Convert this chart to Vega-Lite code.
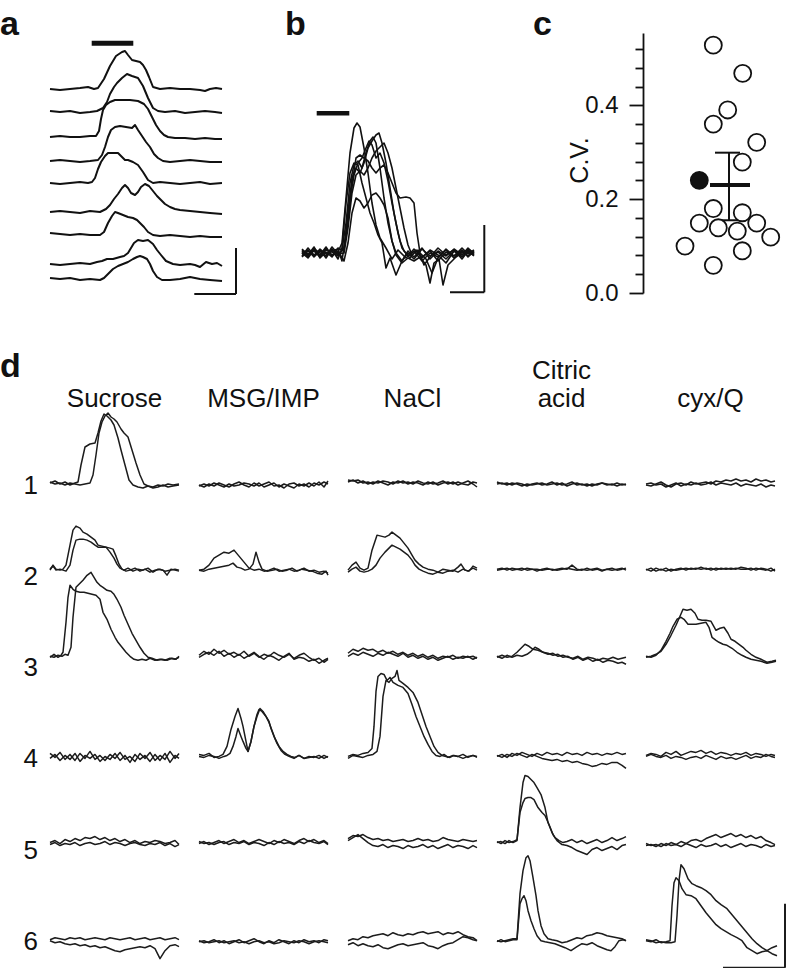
{
"$schema":"https://vega.github.io/schema/vega-lite/v6.json",
"background":"white",
"padding":{"left":0,"top":8,"right":0,"bottom":0},
"config":{"view":{"stroke":null},"font":"Liberation Sans","axis":{"labelOverlap":false},"title":{"font":"Liberation Sans","fontSize":34,"fontWeight":"bold","color":"#111","anchor":"start","frame":"group"}},
"datasets":{
"a":[
{"k":"trace","trace":1,"t":[0,10,20,30,38,44,48,54,60,66,72,75,78,82,86,90,93,96,99,103,110,120,130,140,150,155,160,166,172],"v":[204,203,204,205,206,204,205,214,227,237,241,242,238,233,232,231,228,223,216,206,204,205,204,204,203,202,204,205,204]},
{"k":"trace","trace":2,"t":[0,10,20,30,40,47,53,57,60,64,67,72,77,82,88,93,98,103,108,115,125,135,145,155,165,172],"v":[182,181,182,180,181,182,185,191,199,206,210,215,219,217,215,207,195,185,182,181,182,180,181,182,181,180]},
{"k":"trace","trace":3,"t":[0,10,20,30,40,46,49,51,53,56,60,65,72,80,88,94,98,102,106,110,114,118,125,135,145,155,165,172],"v":[156,157,156,156,157,157,162,174,183,188,191,193,193,193,192,189,184,176,168,162,158,156,155,155,154,155,154,154]},
{"k":"trace","trace":4,"t":[0,10,20,30,40,48,52,55,58,61,65,70,76,82,85,88,92,96,100,104,108,113,120,130,140,150,160,172],"v":[132,133,132,131,132,133,138,146,156,163,166,167,166,165,168,163,157,151,146,139,135,132,131,132,133,132,131,131]},
{"k":"trace","trace":5,"t":[0,10,20,30,38,42,45,48,51,55,58,63,68,72,75,78,83,88,93,98,103,110,120,130,140,150,160,172],"v":[110,109,110,111,110,111,115,124,131,137,140,140,140,136,133,133,131,128,121,113,110,111,110,109,110,111,109,110]},
{"k":"trace","trace":6,"t":[0,10,20,30,40,50,56,60,64,68,72,75,78,81,85,88,91,95,99,103,107,111,115,120,125,130,140,150,160,172],"v":[81,82,81,80,82,81,84,88,94,99,105,108,105,100,98,101,106,109,107,102,97,93,89,86,84,83,82,81,80,79]},
{"k":"trace","trace":7,"t":[0,10,20,30,40,50,54,58,62,65,68,73,78,83,87,90,94,98,103,110,120,130,140,150,160,172],"v":[60,59,58,59,58,58,61,70,77,81,80,78,76,75,73,70,66,61,58,57,58,57,56,57,56,56]},
{"k":"trace","trace":8,"t":[0,10,20,30,40,47,52,57,63,70,74,78,81,84,88,93,98,103,107,111,116,123,130,140,145,150,156,162,167,172],"v":[29,28,29,30,29,31,32,34,34,36,37,40,45,50,53,52,53,49,43,38,32,29,28,29,28,26,31,29,30,27]},
{"k":"trace","trace":9,"t":[0,10,20,30,40,50,54,58,63,68,73,78,83,87,90,93,97,100,103,107,112,120,130,140,150,160,172],"v":[15,14,15,13,14,13,15,19,24,27,29,31,34,36,37,36,34,29,22,16,13,13,14,16,14,13,12]},
{"k":"stim","bx":41.7,"bx2":83.3,"by":249.7,"by2":249.7},
{"k":"scale","bx":186,"bx2":186,"by":45,"by2":-1},
{"k":"scale","bx":144.3,"bx2":186,"by":-1,"by2":-1}
],
"b":[
{"k":"trace","s":1,"t":[0,6,12,18,24,30,36,40,44,48,52,55,58,62,66,70,74,78,84,90,96,104,112,120,128,136,144,152,160,166,172],"v":[2,-4,5,-3,4,-2,1,10,55,100,125,130,126,105,80,50,28,15,5,-6,3,-5,2,-8,0,-4,3,-5,2,-3,1]},
{"k":"trace","s":2,"t":[0,6,12,18,24,30,36,40,44,48,52,56,60,64,68,71,74,78,82,86,90,94,100,106,112,120,128,136,144,152,160,166,172],"v":[-3,5,-2,3,-5,4,-2,3,30,70,88,92,85,100,112,116,110,85,55,30,12,0,-8,2,-4,5,-6,2,-3,4,-2,5,-1]},
{"k":"trace","s":3,"t":[0,6,12,18,24,30,36,42,46,50,54,58,62,66,70,74,77,80,84,88,92,96,100,106,112,120,128,136,144,152,160,166,172],"v":[4,-2,6,-5,1,-4,5,2,40,75,85,80,90,105,112,118,120,110,90,65,40,20,5,-3,4,-5,3,-2,-10,2,-4,3,-2]},
{"k":"trace","s":4,"t":[0,6,12,18,24,30,36,42,46,50,54,58,62,66,70,74,78,82,86,90,94,98,102,106,110,116,122,128,136,144,152,160,166,172],"v":[-1,3,-4,2,-3,6,-1,0,25,60,78,82,78,85,95,102,106,110,100,85,65,45,25,8,-2,3,-12,-4,5,-2,3,-6,2,-3]},
{"k":"trace","s":5,"t":[0,6,12,18,24,30,36,42,46,50,54,58,62,66,70,74,78,82,86,90,94,100,106,112,118,124,128,132,137,141,146,154,162,172],"v":[0,-5,3,-2,6,-3,2,-8,10,40,55,52,45,50,58,60,55,48,35,12,-2,-10,-5,-8,-4,-12,-30,-10,-6,-32,-12,-4,2,-2]},
{"k":"trace","s":6,"t":[0,6,12,18,24,30,36,42,46,50,54,58,62,66,70,74,78,82,86,90,94,98,104,108,112,115,118,124,130,136,144,152,160,166,172],"v":[3,-1,2,-4,3,1,-3,5,30,68,95,98,95,92,85,80,85,88,80,70,60,55,56,55,50,20,0,-6,-20,-5,4,-3,3,-4,2]},
{"k":"trace","s":7,"t":[0,6,12,18,24,30,36,40,44,48,52,56,60,64,68,72,76,80,84,88,94,100,106,112,120,128,136,144,152,160,166,172],"v":[-4,2,-3,4,-1,3,-6,5,50,80,90,88,70,55,40,30,18,10,-15,-5,-22,-8,0,-6,4,-3,1,-6,2,-2,4,0]},
{"k":"trace","s":8,"t":[0,6,12,18,24,30,36,40,44,48,52,56,60,64,67,70,74,78,82,86,90,94,98,102,108,114,120,128,136,144,152,160,166,172],"v":[1,-3,4,0,-3,2,4,-8,20,55,78,90,95,105,112,108,95,100,90,72,50,30,12,2,-5,3,-4,2,-8,1,-3,5,-1,3]},
{"k":"stim","bx":14.7,"bx2":47.3,"by":139.7,"by2":139.7},
{"k":"scale","bx":182.3,"bx2":182.3,"by":28,"by2":-39.3},
{"k":"scale","bx":148,"bx2":182.3,"by":-39.3,"by2":-39.3}
],
"c":[
{"k":"pt","f":"open","off":70.3,"cv":0.528},
{"k":"pt","f":"open","off":99.7,"cv":0.468},
{"k":"pt","f":"open","off":84.7,"cv":0.390},
{"k":"pt","f":"open","off":70.3,"cv":0.360},
{"k":"pt","f":"open","off":113.7,"cv":0.321},
{"k":"pt","f":"open","off":99.3,"cv":0.279},
{"k":"pt","f":"filled","off":56.3,"cv":0.240},
{"k":"pt","f":"open","off":70.3,"cv":0.180},
{"k":"pt","f":"open","off":99.3,"cv":0.171},
{"k":"pt","f":"open","off":56.3,"cv":0.149},
{"k":"pt","f":"open","off":113.7,"cv":0.149},
{"k":"pt","f":"open","off":75.3,"cv":0.139},
{"k":"pt","f":"open","off":94.3,"cv":0.132},
{"k":"pt","f":"open","off":127.7,"cv":0.119},
{"k":"pt","f":"open","off":42,"cv":0.100},
{"k":"pt","f":"open","off":99.3,"cv":0.090},
{"k":"pt","f":"open","off":70.3,"cv":0.059},
{"k":"err","x1":86,"x2":86,"y1":0.155,"y2":0.299},
{"k":"err","x1":72,"x2":97,"y1":0.299,"y2":0.299},
{"k":"err","x1":76,"x2":96,"y1":0.155,"y2":0.155},
{"k":"mean","x1":67,"x2":107,"y1":0.230,"y2":0.230}
],
"d":[
{"k":"trace","r":1,"c":"Sucrose","s":"A","t":[0,5,10,15,20,25,28,31,35,40,45,48,51,54,57,61,64,68,71,75,79,83,88,93,98,103,108,113,118,123,129],"v":[-2,0,-3,-1,-4,-2,-1,16,34,37,38,48,60,67,65,61,56,43,31,16,1,-4,-6,-7,-5,-7,-6,-4,-6,-5,-4]},
{"k":"trace","r":1,"c":"Sucrose","s":"B","t":[0,5,10,15,20,25,30,35,40,43,46,49,52,55,58,61,64,67,71,74,78,82,86,90,94,98,103,108,113,118,123,129],"v":[-1,-3,-2,-4,-2,-3,-4,-3,-2,6,26,48,59,65,68,64,62,59,52,48,44,31,18,6,-3,-5,-6,-4,-5,-3,-4,-3]},
{"k":"trace","r":1,"c":"MSG/IMP","s":"A","t":[0,5,10,15,20,25,30,35,40,45,50,55,60,65,70,75,80,85,90,95,100,105,110,115,120,125,129],"v":[-4,-6,-3,-5,-2,-4,-6,-3,-1,-4,-6,-2,-5,-3,-1,-5,-4,-7,-3,-2,-5,-3,-6,-2,-4,-1,-3]},
{"k":"trace","r":1,"c":"MSG/IMP","s":"B","t":[0,5,10,15,20,25,30,35,40,45,50,55,60,65,70,75,80,85,90,95,100,105,110,115,120,125,129],"v":[-5,-3,-5,-2,-4,-6,-3,-5,-4,-2,-3,-5,-2,-6,-4,-2,-6,-3,-5,-7,-3,-5,-2,-5,-1,-6,0]},
{"k":"trace","r":1,"c":"NaCl","s":"A","t":[0,5,10,15,20,25,30,35,40,45,50,55,60,65,70,75,80,85,90,95,100,105,110,115,120,125,129],"v":[1,0,1,-2,-1,-3,0,-2,-4,-1,-2,0,-3,-1,-2,-4,-1,-3,-2,0,-3,-1,-4,-2,0,-3,-6]},
{"k":"trace","r":1,"c":"NaCl","s":"B","t":[0,5,10,15,20,25,30,35,40,45,50,55,60,65,70,75,80,85,90,95,100,105,110,115,120,125,129],"v":[-1,1,-2,0,-3,-1,-2,0,-1,-3,0,-2,-1,-3,0,-2,-3,-1,-4,-2,-1,-3,-1,-3,-4,-1,-2]},
{"k":"trace","r":1,"c":"Citric acid","s":"A","t":[0,5,10,15,20,25,30,35,40,45,50,55,60,65,70,75,80,85,90,95,100,105,110,115,120,125,129],"v":[-1,-3,-2,-4,-2,-3,-5,-3,-2,-4,-3,-1,-4,-2,-5,-3,-2,-4,-3,-5,-3,-2,-4,-3,-5,-3,-4]},
{"k":"trace","r":1,"c":"Citric acid","s":"B","t":[0,5,10,15,20,25,30,35,40,45,50,55,60,65,70,75,80,85,90,95,100,105,110,115,120,125,129],"v":[-3,-2,-4,-2,-3,-5,-3,-4,-3,-2,-4,-3,-2,-4,-3,-1,-4,-3,-5,-3,-4,-2,-3,-4,-2,-4,-3]},
{"k":"trace","r":1,"c":"cyx/Q","s":"A","t":[0,5,10,15,20,25,30,35,40,45,50,55,60,65,70,75,80,85,90,95,100,105,110,115,120,125,129],"v":[-4,-5,-3,-1,-4,-6,-3,-2,-4,-1,-3,-2,-1,-3,0,-1,1,0,2,0,1,-1,2,0,1,-1,0]},
{"k":"trace","r":1,"c":"cyx/Q","s":"B","t":[0,5,10,15,20,25,30,35,40,45,50,55,60,65,70,75,80,85,90,95,100,105,110,115,120,125,129],"v":[-3,-2,-4,-3,-6,-4,-2,-5,-3,-4,-2,-4,-3,-1,-4,-2,-3,-4,-2,-5,-3,-4,-5,-3,-6,-4,-5]},
{"k":"trace","r":2,"c":"Sucrose","s":"A","t":[0,3,6,10,13,16,20,23,26,30,33,37,41,45,48,52,56,60,64,67,70,74,78,83,88,93,98,103,108,113,117,121,125,129],"v":[2,7,3,2,3,7,27,42,46,44,40,38,35,32,27,26,25,20,14,8,4,2,4,1,3,2,4,0,3,2,-3,3,2,1]},
{"k":"trace","r":2,"c":"Sucrose","s":"B","t":[0,3,6,10,13,16,20,23,26,30,33,37,41,45,48,52,56,60,63,66,69,72,76,80,85,90,95,100,105,110,115,120,125,129],"v":[3,6,2,3,2,1,7,22,32,33,33,32,30,27,25,25,25,24,23,16,8,3,1,2,4,1,3,0,2,3,1,2,3,2]},
{"k":"trace","r":2,"c":"MSG/IMP","s":"A","t":[0,5,10,15,20,25,30,35,40,45,50,55,60,65,70,75,80,85,90,95,100,105,110,115,120,125,129],"v":[2,3,7,14,17,20,19,22,16,10,4,2,3,1,2,4,1,2,3,1,2,4,1,2,0,1,-1]},
{"k":"trace","r":2,"c":"MSG/IMP","s":"B","t":[0,5,10,15,20,25,30,34,38,42,46,50,54,57,60,63,68,73,78,83,88,93,98,103,108,113,118,123,127,129],"v":[2,1,3,4,5,6,7,9,5,4,2,3,8,20,10,3,1,2,3,1,2,4,1,3,2,1,-1,-2,1,-3]},
{"k":"trace","r":2,"c":"NaCl","s":"A","t":[0,4,8,12,16,20,24,29,33,37,41,44,48,52,56,60,64,67,71,75,80,85,90,95,100,105,110,113,117,121,125,129],"v":[2,7,10,4,2,4,22,37,36,35,37,40,37,34,29,24,17,12,8,5,3,2,0,3,2,1,5,8,2,1,6,4]},
{"k":"trace","r":2,"c":"NaCl","s":"B","t":[0,4,8,12,16,20,24,28,32,37,41,44,48,52,56,60,64,67,71,75,80,85,90,95,100,105,110,115,120,125,129],"v":[0,3,5,1,0,1,3,7,14,20,24,27,25,23,20,17,12,7,3,1,-1,-2,0,-1,1,2,0,3,1,4,2]},
{"k":"trace","r":2,"c":"Citric acid","s":"A","t":[0,5,10,15,20,25,30,35,40,45,50,55,60,65,70,75,80,85,90,95,100,105,110,115,120,125,129],"v":[3,4,2,4,3,2,4,3,1,3,4,2,3,4,3,7,3,2,4,2,3,1,3,4,2,3,4]},
{"k":"trace","r":2,"c":"Citric acid","s":"B","t":[0,5,10,15,20,25,30,35,40,45,50,55,60,65,70,75,80,85,90,95,100,105,110,115,120,125,129],"v":[2,3,4,2,3,4,2,3,3,2,3,3,2,3,4,3,2,3,2,3,4,2,3,2,3,4,2]},
{"k":"trace","r":2,"c":"cyx/Q","s":"A","t":[0,5,10,15,20,25,30,35,40,45,50,55,60,65,70,75,80,85,90,95,100,105,110,115,120,125,129],"v":[3,1,4,2,4,1,3,4,2,4,3,5,3,4,2,4,3,4,3,5,4,2,4,3,2,4,1]},
{"k":"trace","r":2,"c":"cyx/Q","s":"B","t":[0,5,10,15,20,25,30,35,40,45,50,55,60,65,70,75,80,85,90,95,100,105,110,115,120,125,129],"v":[2,4,1,3,1,3,2,3,4,3,4,3,4,2,4,3,4,3,4,3,3,4,2,4,3,1,3]},
{"k":"trace","r":3,"c":"Sucrose","s":"A","t":[0,4,8,11,13,16,18,20,23,26,30,34,38,42,46,50,53,57,61,65,68,72,76,80,84,88,92,96,100,105,110,115,120,125,129],"v":[6,9,6,8,11,41,66,78,74,72,71,71,70,69,68,64,51,44,34,26,21,16,11,7,4,3,4,3,5,3,4,3,5,4,6]},
{"k":"trace","r":3,"c":"Sucrose","s":"B","t":[0,4,8,12,15,18,21,23,26,30,33,37,41,44,47,50,53,57,61,64,67,71,74,78,82,86,90,94,98,102,107,112,117,122,126,129],"v":[7,6,8,7,9,8,16,46,76,80,83,88,91,86,81,78,76,73,72,69,64,56,48,39,30,23,16,10,6,5,3,4,3,5,4,7]},
{"k":"trace","r":3,"c":"MSG/IMP","s":"A","t":[0,5,10,15,20,25,30,35,40,45,50,55,60,65,70,75,80,85,90,95,100,105,110,115,120,125,129],"v":[8,12,9,14,10,13,9,11,8,12,7,10,6,9,7,11,8,6,9,5,8,10,6,3,5,1,4]},
{"k":"trace","r":3,"c":"MSG/IMP","s":"B","t":[0,5,10,15,20,25,30,35,40,45,50,55,60,65,70,75,80,85,90,95,100,105,110,115,120,125,129],"v":[6,9,11,8,12,7,10,6,9,5,8,11,7,4,8,6,3,7,10,4,6,5,2,4,0,3,5]},
{"k":"trace","r":3,"c":"NaCl","s":"A","t":[0,5,10,15,20,25,30,35,40,45,50,55,60,65,70,75,80,85,90,95,100,105,110,115,120,125,129],"v":[10,14,12,15,13,14,11,13,10,12,9,11,8,10,7,9,6,8,5,7,6,8,5,7,6,7,5]},
{"k":"trace","r":3,"c":"NaCl","s":"B","t":[0,5,10,15,20,25,30,35,40,45,50,55,60,65,70,75,80,85,90,95,100,105,110,115,120,125,129],"v":[7,10,8,11,9,7,10,8,11,9,7,10,6,8,5,7,4,6,3,5,7,4,6,5,7,4,6]},
{"k":"trace","r":3,"c":"Citric acid","s":"A","t":[0,5,10,15,20,25,28,32,36,41,46,51,56,61,66,71,76,81,86,91,96,101,106,111,116,121,125,129],"v":[6,8,6,7,11,16,19,17,14,13,11,9,10,7,8,6,5,7,4,6,5,3,5,4,6,4,5,6]},
{"k":"trace","r":3,"c":"Citric acid","s":"B","t":[0,5,10,15,20,25,30,34,38,42,46,51,56,61,66,71,76,81,86,91,96,101,106,111,116,121,125,129],"v":[7,5,8,6,8,7,9,12,16,14,11,10,8,9,6,7,4,6,3,5,2,4,1,3,2,0,1,-1]},
{"k":"trace","r":3,"c":"cyx/Q","s":"A","t":[0,5,10,15,20,25,30,34,37,41,45,49,52,56,60,65,70,74,78,82,85,89,93,97,100,105,110,115,121,126,130],"v":[6,7,9,12,19,28,38,47,54,53,54,50,44,43,43,42,33,35,36,30,24,22,19,16,13,9,6,4,1,2,3]},
{"k":"trace","r":3,"c":"cyx/Q","s":"B","t":[0,5,10,15,20,24,27,31,35,38,42,46,50,55,60,63,66,70,73,77,81,86,91,96,100,105,110,115,121,126,130],"v":[7,6,8,13,22,30,37,44,46,44,39,39,39,40,41,36,26,23,21,19,18,15,11,8,6,4,3,2,0,1,2]},
{"k":"trace","r":4,"c":"Sucrose","s":"A","t":[0,5,10,15,20,25,30,35,40,45,50,55,60,65,70,75,80,85,90,95,100,105,110,115,120,125,129],"v":[1,-3,2,-5,0,-6,1,-4,3,-5,-1,-6,0,-4,2,-5,-2,-7,1,-4,2,-6,-1,-5,3,-4,1]},
{"k":"trace","r":4,"c":"Sucrose","s":"B","t":[0,5,10,15,20,25,30,35,40,45,50,55,60,65,70,75,80,85,90,95,100,105,110,115,120,125,129],"v":[-4,0,-6,-1,-5,1,-7,-1,-4,0,-7,-2,-5,1,-6,-1,-8,0,-5,-1,-7,0,-6,1,-8,-1,-4]},
{"k":"trace","r":4,"c":"MSG/IMP","s":"A","t":[0,5,10,15,20,24,28,32,36,39,42,44,47,49,52,55,58,60,63,67,70,72,75,78,82,86,90,95,100,105,110,115,120,125,129],"v":[0,-1,1,-3,-2,0,8,25,38,46,36,28,13,3,13,28,40,45,43,38,33,26,18,11,4,0,-2,-4,-1,-4,-2,-3,-1,-4,-2]},
{"k":"trace","r":4,"c":"MSG/IMP","s":"B","t":[0,5,10,15,20,25,28,31,34,37,39,42,44,47,49,52,55,58,61,64,67,70,73,76,80,84,88,92,96,100,105,110,115,120,125,129],"v":[-2,-3,-1,-2,-4,-2,-1,1,8,18,26,18,13,6,3,13,28,38,46,43,38,32,24,16,8,3,0,-2,-3,-1,-4,-3,-2,-4,-1,-3]},
{"k":"trace","r":4,"c":"NaCl","s":"A","t":[0,5,10,15,20,24,26,28,30,33,36,39,42,45,50,55,60,64,68,72,76,80,84,88,92,96,100,105,110,115,120,125,129],"v":[-2,0,-1,1,2,6,28,63,78,81,80,74,77,72,69,67,61,50,38,28,18,10,3,-1,-2,0,-3,-1,-2,0,-3,-1,-2]},
{"k":"trace","r":4,"c":"NaCl","s":"B","t":[0,5,10,15,20,25,29,32,35,38,41,44,47,49,51,55,60,65,70,74,78,82,86,90,94,98,102,106,110,115,120,125,129],"v":[-4,-1,-2,-3,-1,0,3,18,58,74,72,76,78,84,74,71,67,62,52,40,28,18,8,2,-1,-2,-3,-1,-2,-4,-2,-1,-3]},
{"k":"trace","r":4,"c":"Citric acid","s":"A","t":[0,5,10,15,20,25,30,35,40,45,50,55,60,65,70,75,80,85,90,95,100,105,110,115,120,125,129],"v":[-2,0,-3,1,-1,2,0,-2,1,-1,2,0,1,-1,2,0,1,-1,2,0,1,-1,1,0,2,0,1]},
{"k":"trace","r":4,"c":"Citric acid","s":"B","t":[0,5,10,15,20,25,30,35,40,45,50,55,60,65,70,75,80,85,90,95,100,105,110,115,120,125,129],"v":[-1,-3,0,-2,1,-1,-3,0,-2,-4,-5,-6,-5,-7,-6,-8,-7,-9,-10,-12,-11,-9,-10,-8,-8,-11,-14]},
{"k":"trace","r":4,"c":"cyx/Q","s":"A","t":[0,5,10,15,20,25,30,35,40,45,50,55,60,65,70,75,80,85,90,95,100,105,110,115,120,125,129],"v":[-1,1,0,-2,2,0,3,-1,1,3,2,4,1,3,0,2,1,-1,1,0,2,-1,1,0,-2,0,-1]},
{"k":"trace","r":4,"c":"cyx/Q","s":"B","t":[0,5,10,15,20,25,30,35,40,45,50,55,60,65,70,75,80,85,90,95,100,105,110,115,120,125,129],"v":[-2,0,-2,-3,-1,-4,-2,-3,-5,-3,-2,-4,-1,-3,-5,-2,-4,-3,-5,-3,-1,-4,-2,-3,0,-2,-3]},
{"k":"trace","r":5,"c":"Sucrose","s":"A","t":[0,5,10,15,20,25,30,35,40,45,50,55,60,65,70,75,80,85,90,95,100,105,110,115,120,125,129],"v":[3,5,2,6,4,7,5,8,7,9,6,8,5,7,4,6,3,5,2,4,3,5,4,2,3,5,1]},
{"k":"trace","r":5,"c":"Sucrose","s":"B","t":[0,5,10,15,20,25,30,35,40,45,50,55,60,65,70,75,80,85,90,95,100,105,110,115,120,125,129],"v":[1,3,0,2,1,3,0,2,3,1,2,4,1,3,2,0,2,3,1,0,2,1,3,0,2,-1,1]},
{"k":"trace","r":5,"c":"MSG/IMP","s":"A","t":[0,5,10,15,20,25,30,35,40,45,50,55,60,65,70,75,80,85,90,95,100,105,110,115,120,125,129],"v":[2,4,1,3,5,2,4,6,3,5,2,4,6,4,2,5,3,6,4,2,5,7,4,6,3,5,2]},
{"k":"trace","r":5,"c":"MSG/IMP","s":"B","t":[0,5,10,15,20,25,30,35,40,45,50,55,60,65,70,75,80,85,90,95,100,105,110,115,120,125,129],"v":[4,2,3,1,3,4,1,3,2,4,1,3,2,0,3,1,4,2,3,1,4,2,5,3,2,4,1]},
{"k":"trace","r":5,"c":"NaCl","s":"A","t":[0,5,10,15,20,25,30,35,40,45,50,55,60,65,70,75,80,85,90,95,100,105,110,115,120,125,129],"v":[7,10,9,11,8,6,7,5,6,4,5,6,4,5,7,5,6,4,5,8,6,5,4,6,5,4,5]},
{"k":"trace","r":5,"c":"NaCl","s":"B","t":[0,5,10,15,20,25,30,35,40,45,50,55,60,65,70,75,80,85,90,95,100,105,110,115,120,125,129],"v":[5,8,11,7,3,0,-1,1,-2,0,-1,-3,0,-2,-1,1,-2,0,-3,-1,1,-2,0,-1,-3,0,-2]},
{"k":"trace","r":5,"c":"Citric acid","s":"A","t":[0,4,8,12,16,20,23,26,28,31,34,37,40,44,48,51,55,58,62,66,70,75,80,85,90,95,100,105,110,115,120,125,129],"v":[3,4,2,5,3,5,38,63,70,69,66,63,58,51,38,23,13,8,5,3,4,6,3,5,2,4,6,3,5,8,5,7,9]},
{"k":"trace","r":5,"c":"Citric acid","s":"B","t":[0,4,8,12,16,20,23,26,28,31,34,37,41,45,48,52,56,60,65,70,75,80,85,90,95,100,105,110,115,120,125,129],"v":[4,2,5,3,4,6,33,43,47,48,48,46,38,33,30,21,11,5,1,0,-2,-5,-7,-9,-4,-2,-5,-3,-1,-4,0,1]},
{"k":"trace","r":5,"c":"cyx/Q","s":"A","t":[0,5,10,15,20,25,30,35,40,45,50,55,60,65,70,75,80,85,90,95,100,105,110,115,120,125,129],"v":[0,1,-1,2,0,3,1,4,2,5,6,4,7,9,11,8,10,12,9,11,8,10,7,9,5,3,1]},
{"k":"trace","r":5,"c":"cyx/Q","s":"B","t":[0,5,10,15,20,25,30,35,40,45,50,55,60,65,70,75,80,85,90,95,100,105,110,115,120,125,129],"v":[2,0,1,-1,2,0,1,-1,2,0,-2,1,-1,0,2,-1,1,-2,0,2,-1,1,0,-2,1,-1,0]},
{"k":"trace","r":6,"c":"Sucrose","s":"A","t":[0,5,10,15,20,25,30,35,40,45,50,55,60,65,70,75,80,85,90,95,100,105,110,115,120,125,129],"v":[-3,-1,-2,-3,-1,-2,-1,-3,-2,-1,-2,-3,-1,-2,-3,-2,-1,-3,-2,-1,-3,-2,-1,-3,-2,-1,-3]},
{"k":"trace","r":6,"c":"Sucrose","s":"B","t":[0,5,10,15,20,25,30,35,40,45,50,55,60,65,70,75,80,85,90,95,100,105,110,115,120,125,129],"v":[-4,-6,-5,-7,-8,-7,-9,-8,-10,-9,-11,-10,-12,-14,-15,-13,-12,-11,-10,-11,-9,-12,-22,-14,-9,-8,-10]},
{"k":"trace","r":6,"c":"MSG/IMP","s":"A","t":[0,5,10,15,20,25,30,35,40,45,50,55,60,65,70,75,80,85,90,95,100,105,110,115,120,125,129],"v":[-4,-6,-5,-3,-6,-4,-7,-5,-3,-6,-4,-2,-5,-7,-4,-6,-3,-5,-7,-4,-6,-3,-5,-4,-6,-3,-4]},
{"k":"trace","r":6,"c":"MSG/IMP","s":"B","t":[0,5,10,15,20,25,30,35,40,45,50,55,60,65,70,75,80,85,90,95,100,105,110,115,120,125,129],"v":[-5,-4,-6,-5,-4,-6,-5,-4,-6,-5,-7,-5,-4,-6,-5,-7,-6,-4,-5,-6,-4,-5,-7,-5,-4,-5,-6]},
{"k":"trace","r":6,"c":"NaCl","s":"A","t":[0,5,10,15,20,25,30,35,40,45,50,55,60,65,70,75,80,85,90,95,100,105,110,115,120,125,129],"v":[-4,-2,-3,0,-1,1,2,3,1,4,2,1,3,2,4,5,3,4,5,2,4,3,5,2,0,-1,-4]},
{"k":"trace","r":6,"c":"NaCl","s":"B","t":[0,5,10,15,20,25,30,35,40,45,50,55,60,65,70,75,80,85,90,95,100,105,110,115,120,125,129],"v":[-8,-6,-9,-7,-9,-10,-8,-11,-12,-10,-8,-7,-9,-8,-7,-6,-9,-10,-12,-9,-7,-6,-3,0,-1,-3,-4]},
{"k":"trace","r":6,"c":"Citric acid","s":"A","t":[0,4,8,12,16,20,23,26,29,31,33,36,39,41,44,47,51,55,60,65,70,75,80,85,90,95,100,105,110,115,120,125,129],"v":[-4,-5,-4,-3,-2,-2,43,66,79,81,76,59,41,26,11,3,-2,-3,-4,-6,-5,-3,-1,-2,1,2,4,3,1,0,-1,-2,-4]},
{"k":"trace","r":6,"c":"Citric acid","s":"B","t":[0,4,8,12,16,20,23,25,27,29,31,34,37,40,44,48,53,58,63,68,74,80,85,90,95,100,105,110,114,118,122,126,129],"v":[-5,-3,-5,-4,-3,-3,33,38,41,36,26,16,8,1,-4,-5,-6,-7,-9,-11,-14,-10,-7,-8,-6,-9,-11,-13,-14,-10,-4,-3,-4]},
{"k":"trace","r":6,"c":"cyx/Q","s":"A","t":[0,5,10,15,20,24,26,28,30,33,36,40,45,50,55,60,65,70,75,80,85,91,96,101,106,111,116,121,126,131],"v":[-4,-5,-3,-6,-5,-4,31,54,59,56,48,42,41,38,31,24,18,12,8,5,2,-1,-4,-11,-14,-17,-15,-14,-17,-19]},
{"k":"trace","r":6,"c":"cyx/Q","s":"B","t":[0,5,10,15,20,25,29,31,33,35,38,42,46,50,55,60,65,70,75,81,86,91,96,101,106,111,116,121,126,131],"v":[-3,-4,-6,-5,-6,-6,-5,21,56,72,68,58,53,51,49,46,42,36,32,28,22,16,10,4,-2,-7,-11,-14,-11,-9]},
{"k":"scale","r":6,"c":"cyx/Q","bx":139,"bx2":139,"by":33,"by2":-31},
{"k":"scale","r":6,"c":"cyx/Q","bx":77,"bx2":139,"by":-31,"by2":-31}
]
},
"spacing":45,
"vconcat":[
{"spacing":45,"hconcat":[
{"data":{"name":"a"},
 "title":{"text":"a","dx":-50,"offset":-9.1},
 "width":190,"height":260,
 "layer":[
  {"transform":[{"filter":"datum.k === 'trace'"},{"flatten":["t","v"]}],
   "mark":{"type":"line","color":"#111","strokeWidth":2,"strokeJoin":"round"},
   "encoding":{"x":{"field":"t","type":"quantitative","scale":{"domain":[0,190],"nice":false,"zero":false},"axis":null},
    "y":{"field":"v","type":"quantitative","scale":{"domain":[0,260],"nice":false,"zero":false},"axis":null},
    "detail":{"field":"trace","type":"nominal"}}},
  {"transform":[{"filter":"datum.k === 'stim'"}],
   "mark":{"type":"rule","color":"#111","strokeWidth":5},
   "encoding":{"x":{"field":"bx","type":"quantitative","scale":{"domain":[0,190],"nice":false,"zero":false},"axis":null},"x2":{"field":"bx2"},
    "y":{"field":"by","type":"quantitative","scale":{"domain":[0,260],"nice":false,"zero":false},"axis":null},"y2":{"field":"by2"}}},
  {"transform":[{"filter":"datum.k === 'scale'"}],
   "mark":{"type":"rule","color":"#111","strokeWidth":2},
   "encoding":{"x":{"field":"bx","type":"quantitative","scale":{"domain":[0,190],"nice":false,"zero":false},"axis":null},"x2":{"field":"bx2"},
    "y":{"field":"by","type":"quantitative","scale":{"domain":[0,260],"nice":false,"zero":false},"axis":null},"y2":{"field":"by2"}}}
 ]},
{"data":{"name":"b"},
 "title":{"text":"b","offset":-9.1},
 "width":203,"height":260,
 "layer":[
  {"transform":[{"filter":"datum.k === 'trace'"},{"flatten":["t","v"]}],
   "mark":{"type":"line","color":"#111","strokeWidth":1.6,"strokeJoin":"round"},
   "encoding":{"x":{"field":"t","type":"quantitative","scale":{"domain":[-17,186],"nice":false,"zero":false},"axis":null},
    "y":{"field":"v","type":"quantitative","scale":{"domain":[-40,220],"nice":false,"zero":false},"axis":null},
    "detail":{"field":"s","type":"nominal"}}},
  {"transform":[{"filter":"datum.k === 'stim'"}],
   "mark":{"type":"rule","color":"#111","strokeWidth":4.5},
   "encoding":{"x":{"field":"bx","type":"quantitative","scale":{"domain":[-17,186],"nice":false,"zero":false},"axis":null},"x2":{"field":"bx2"},
    "y":{"field":"by","type":"quantitative","scale":{"domain":[-40,220],"nice":false,"zero":false},"axis":null},"y2":{"field":"by2"}}},
  {"transform":[{"filter":"datum.k === 'scale'"}],
   "mark":{"type":"rule","color":"#111","strokeWidth":2},
   "encoding":{"x":{"field":"bx","type":"quantitative","scale":{"domain":[-17,186],"nice":false,"zero":false},"axis":null},"x2":{"field":"bx2"},
    "y":{"field":"by","type":"quantitative","scale":{"domain":[-40,220],"nice":false,"zero":false},"axis":null},"y2":{"field":"by2"}}}
 ]},
{"data":{"name":"c"},
 "title":{"text":"c","dx":-110,"offset":-9.1},
 "width":142,"height":260,
 "layer":[
  {"transform":[{"filter":"datum.k === 'err'"}],
   "mark":{"type":"rule","color":"#111","strokeWidth":2},
   "encoding":{"x":{"field":"x1","type":"quantitative","scale":{"domain":[0,142],"nice":false,"zero":false},"axis":null},"x2":{"field":"x2"},
    "y":{"field":"y1","type":"quantitative","title":"C.V.","scale":{"domain":[0,0.554],"nice":false,"zero":false},
     "axis":{"title":"C.V.","values":[0,0.04,0.08,0.12,0.16,0.2,0.24,0.28,0.32,0.36,0.4,0.44,0.48,0.52],
      "labelExpr":"abs(datum.value) < 0.001 || abs(datum.value - 0.2) < 0.001 || abs(datum.value - 0.4) < 0.001 ? format(datum.value, '.1f') : ''",
      "tickSize":{"condition":{"test":"abs(datum.value) < 0.001 || abs(datum.value - 0.2) < 0.001 || abs(datum.value - 0.4) < 0.001","value":14},"value":8},
      "tickWidth":1.8,"tickColor":"#111","domainColor":"#111","domainWidth":1.8,"grid":false,
      "labelFontSize":24,"labelFont":"Liberation Sans","labelColor":"#111","labelPadding":11,"labelOverlap":false,"labelFlush":false,"labelBaseline":"middle",
      "titleFontSize":25,"titleFont":"Liberation Sans","titleFontWeight":"normal","titleColor":"#111","titleAngle":270,"titleX":-56,"titleY":127,"titleAlign":"center","titleBaseline":"alphabetic"}},
    "y2":{"field":"y2"}}},
  {"transform":[{"filter":"datum.k === 'mean'"}],
   "mark":{"type":"rule","color":"#111","strokeWidth":4},
   "encoding":{"x":{"field":"x1","type":"quantitative","scale":{"domain":[0,142],"nice":false,"zero":false},"axis":null},"x2":{"field":"x2"},
    "y":{"field":"y1","type":"quantitative","title":"C.V.","scale":{"domain":[0,0.554],"nice":false,"zero":false},
     "axis":{"title":"C.V.","values":[0,0.04,0.08,0.12,0.16,0.2,0.24,0.28,0.32,0.36,0.4,0.44,0.48,0.52],
      "labelExpr":"abs(datum.value) < 0.001 || abs(datum.value - 0.2) < 0.001 || abs(datum.value - 0.4) < 0.001 ? format(datum.value, '.1f') : ''",
      "tickSize":{"condition":{"test":"abs(datum.value) < 0.001 || abs(datum.value - 0.2) < 0.001 || abs(datum.value - 0.4) < 0.001","value":14},"value":8},
      "tickWidth":1.8,"tickColor":"#111","domainColor":"#111","domainWidth":1.8,"grid":false,
      "labelFontSize":24,"labelFont":"Liberation Sans","labelColor":"#111","labelPadding":11,"labelOverlap":false,"labelFlush":false,"labelBaseline":"middle",
      "titleFontSize":25,"titleFont":"Liberation Sans","titleFontWeight":"normal","titleColor":"#111","titleAngle":270,"titleX":-56,"titleY":127,"titleAlign":"center","titleBaseline":"alphabetic"}},
    "y2":{"field":"y2"}}},
  {"transform":[{"filter":"datum.k === 'pt' && datum.f === 'open'"}],
   "mark":{"type":"point","shape":"circle","size":290,"fill":"white","stroke":"#111","strokeWidth":1.8,"opacity":1,"filled":false,"fillOpacity":1},
   "encoding":{"x":{"field":"off","type":"quantitative","scale":{"domain":[0,142],"nice":false,"zero":false},"axis":null},
    "y":{"field":"cv","type":"quantitative","title":"C.V.","scale":{"domain":[0,0.554],"nice":false,"zero":false},
     "axis":{"title":"C.V.","values":[0,0.04,0.08,0.12,0.16,0.2,0.24,0.28,0.32,0.36,0.4,0.44,0.48,0.52],
      "labelExpr":"abs(datum.value) < 0.001 || abs(datum.value - 0.2) < 0.001 || abs(datum.value - 0.4) < 0.001 ? format(datum.value, '.1f') : ''",
      "tickSize":{"condition":{"test":"abs(datum.value) < 0.001 || abs(datum.value - 0.2) < 0.001 || abs(datum.value - 0.4) < 0.001","value":14},"value":8},
      "tickWidth":1.8,"tickColor":"#111","domainColor":"#111","domainWidth":1.8,"grid":false,
      "labelFontSize":24,"labelFont":"Liberation Sans","labelColor":"#111","labelPadding":11,"labelOverlap":false,"labelFlush":false,"labelBaseline":"middle",
      "titleFontSize":25,"titleFont":"Liberation Sans","titleFontWeight":"normal","titleColor":"#111","titleAngle":270,"titleX":-56,"titleY":127,"titleAlign":"center","titleBaseline":"alphabetic"}}}},
  {"transform":[{"filter":"datum.k === 'pt' && datum.f === 'filled'"}],
   "mark":{"type":"point","shape":"circle","size":290,"fill":"#111","stroke":"#111","strokeWidth":1.8,"opacity":1,"filled":true},
   "encoding":{"x":{"field":"off","type":"quantitative","scale":{"domain":[0,142],"nice":false,"zero":false},"axis":null},
    "y":{"field":"cv","type":"quantitative","title":"C.V.","scale":{"domain":[0,0.554],"nice":false,"zero":false},
     "axis":{"title":"C.V.","values":[0,0.04,0.08,0.12,0.16,0.2,0.24,0.28,0.32,0.36,0.4,0.44,0.48,0.52],
      "labelExpr":"abs(datum.value) < 0.001 || abs(datum.value - 0.2) < 0.001 || abs(datum.value - 0.4) < 0.001 ? format(datum.value, '.1f') : ''",
      "tickSize":{"condition":{"test":"abs(datum.value) < 0.001 || abs(datum.value - 0.2) < 0.001 || abs(datum.value - 0.4) < 0.001","value":14},"value":8},
      "tickWidth":1.8,"tickColor":"#111","domainColor":"#111","domainWidth":1.8,"grid":false,
      "labelFontSize":24,"labelFont":"Liberation Sans","labelColor":"#111","labelPadding":11,"labelOverlap":false,"labelFlush":false,"labelBaseline":"middle",
      "titleFontSize":25,"titleFont":"Liberation Sans","titleFontWeight":"normal","titleColor":"#111","titleAngle":270,"titleX":-56,"titleY":127,"titleAlign":"center","titleBaseline":"alphabetic"}}}}
 ]}
]},
{"data":{"name":"d"},
 "title":{"text":"d","dx":-50,"offset":-26.6},
 "bounds":"flush",
 "spacing":{"row":21.14,"column":20},
 "facet":{
  "row":{"field":"r","type":"ordinal","header":{"title":null,"labelAngle":0,"labelOrient":"left","labelAlign":"right","labelAnchor":"start","labelBaseline":"middle","labelPadding":-2.5,"labelFontSize":26,"labelFont":"Liberation Sans","labelColor":"#111"}},
  "column":{"field":"c","type":"nominal","sort":["Sucrose","MSG/IMP","NaCl","Citric acid","cyx/Q"],"header":{"title":null,"labelFontSize":26,"labelFont":"Liberation Sans","labelColor":"#111","labelPadding":-21.5,"labelBaseline":"bottom","labelLineHeight":28,"labelExpr":"datum.value === 'Citric acid' ? ['Citric', 'acid'] : datum.value"}}
 },
 "spec":{"width":129,"height":70,"layer":[
  {"transform":[{"filter":"datum.k === 'trace'"},{"flatten":["t","v"]}],
   "mark":{"type":"line","color":"#1c1c1c","strokeWidth":1.5,"strokeJoin":"round"},
   "encoding":{"x":{"field":"t","type":"quantitative","scale":{"domain":[0,129],"nice":false,"zero":false},"axis":null},
    "y":{"field":"v","type":"quantitative","scale":{"domain":[-5,65],"nice":false,"zero":false},"axis":null},
    "detail":{"field":"s","type":"nominal"}}},
  {"transform":[{"filter":"datum.k === 'scale'"}],
   "mark":{"type":"rule","color":"#1c1c1c","strokeWidth":2},
   "encoding":{"x":{"field":"bx","type":"quantitative","scale":{"domain":[0,129],"nice":false,"zero":false},"axis":null},"x2":{"field":"bx2"},
    "y":{"field":"by","type":"quantitative","scale":{"domain":[-5,65],"nice":false,"zero":false},"axis":null},"y2":{"field":"by2"}}}
 ]}}
]
}
